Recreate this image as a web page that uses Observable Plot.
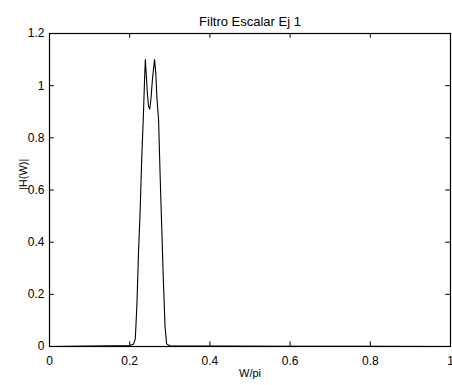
<!DOCTYPE html>
<html>
<head>
<meta charset="utf-8">
<script src="https://cdn.jsdelivr.net/npm/d3@7"></script>
<script src="https://cdn.jsdelivr.net/npm/@observablehq/plot@0.6"></script>
<style>
  html, body { margin: 0; padding: 0; background: #fff; }
  svg { display: block; }
</style>
</head>
<body>
<div id="chart"></div>
<script>
const title = "Filtro Escalar Ej 1";
const xLabel = "W/pi";
const yLabel = "|H(W)|";
const xTicks = [0, 0.2, 0.4, 0.6, 0.8, 1];
const yTicks = [0, 0.2, 0.4, 0.6, 0.8, 1, 1.2];

const freq = [0, 0.1, 0.2, 0.21, 0.214, 0.218, 0.222, 0.226, 0.23, 0.234, 0.237, 0.239, 0.241, 0.244, 0.247, 0.25, 0.253, 0.257, 0.262, 0.265, 0.268, 0.272, 0.276, 0.28, 0.284, 0.288, 0.292, 0.3, 0.4, 0.6, 0.8, 1];
const mag  = [0, 0.002, 0.004, 0.01, 0.03, 0.16, 0.36, 0.52, 0.72, 0.88, 1.02, 1.1, 1.05, 0.97, 0.92, 0.91, 0.95, 1.03, 1.1, 1.05, 0.95, 0.87, 0.65, 0.45, 0.25, 0.08, 0.01, 0.003, 0.002, 0.001, 0.001, 0];

const data = freq.map((f, i) => ({f, m: mag[i]}));
const fmt = d => String(d);
const font = "'Liberation Sans', Arial, sans-serif";
const tickLenY = 0.018;  // inward tick length in y units
const tickLenX = 0.012;  // inward tick length in x units

const chart = Plot.plot({
  width: 452,
  height: 385,
  marginLeft: 49,
  marginRight: 2,
  marginTop: 33,
  marginBottom: 39,
  style: {fontFamily: font, fontSize: "12px", background: "#fff", color: "#000", overflow: "visible"},
  x: {domain: [0, 1]},
  y: {domain: [0, 1.2]},
  marks: [
    Plot.frame({stroke: "#000", strokeWidth: 1.2}),
    Plot.axisX({anchor: "bottom", ticks: xTicks, tickFormat: fmt, tickSize: 0, tickPadding: 10, label: null, fontSize: 12}),
    Plot.axisY({anchor: "left", ticks: yTicks, tickFormat: fmt, tickSize: 0, tickPadding: 5, label: null, fontSize: 12}),
    Plot.ruleX(xTicks, {x: d => d, y1: 0, y2: tickLenY, stroke: "#000"}),
    Plot.ruleX(xTicks, {x: d => d, y1: 1.2, y2: 1.2 - tickLenY, stroke: "#000"}),
    Plot.ruleY(yTicks, {y: d => d, x1: 0, x2: tickLenX, stroke: "#000"}),
    Plot.ruleY(yTicks, {y: d => d, x1: 1, x2: 1 - tickLenX, stroke: "#000"}),
    Plot.line(data, {x: "f", y: "m", stroke: "#000", strokeWidth: 1.1}),
    Plot.text([title], {frameAnchor: "top", dy: -17, fontSize: 13}),
    Plot.text([xLabel], {frameAnchor: "bottom", dy: 30, fontSize: 11}),
    Plot.text([yLabel], {frameAnchor: "left", dx: -26, rotate: -90, fontSize: 11})
  ]
});
document.getElementById("chart").append(chart);
</script>
</body>
</html>
